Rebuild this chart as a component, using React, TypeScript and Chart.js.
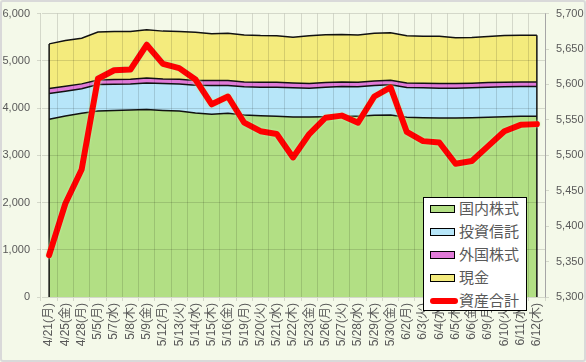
import React, { useEffect, useRef } from "react";
import { Chart, registerables } from "chart.js";

Chart.register(...registerables);

const categories = [
  "4/21(月)", "4/25(金)", "4/28(月)", "5/5(月)", "5/7(水)", "5/8(木)", "5/9(金)",
  "5/12(月)", "5/13(火)", "5/14(水)", "5/15(木)", "5/16(金)", "5/19(月)", "5/20(火)",
  "5/21(水)", "5/22(木)", "5/23(金)", "5/26(月)", "5/27(火)", "5/28(水)", "5/29(木)",
  "5/30(金)", "6/2(月)", "6/3(火)", "6/4(水)", "6/5(木)", "6/6(金)", "6/9(月)",
  "6/10(火)", "6/11(水)", "6/12(木)",
];

const domesticStocks = [
  3762, 3832, 3888, 3937, 3951, 3958, 3972, 3951, 3937, 3895, 3867, 3888, 3853, 3839,
  3825, 3811, 3811, 3818, 3825, 3825, 3846, 3853, 3804, 3797, 3790, 3790, 3797, 3804,
  3818, 3825, 3825,
];

const investmentTrusts = [
  547, 526, 519, 561, 554, 554, 561, 568, 575, 589, 610, 589, 596, 603,
  617, 617, 610, 624, 631, 624, 631, 638, 631, 631, 631, 631, 631, 638,
  631, 631, 631,
];

const foreignStocks = [
  105, 105, 105, 98, 98, 98, 105, 98, 98, 98, 105, 105, 105, 105,
  105, 105, 98, 98, 98, 98, 98, 98, 98, 98, 98, 98, 98, 98,
  98, 98, 98,
];

const cash = [
  945, 969, 968, 1012, 1017, 1011, 1018, 1012, 1013, 1025, 990, 1001, 992, 987,
  983, 964, 1011, 1013, 1002, 999, 1008, 1007, 1000, 994, 999, 969, 966, 973,
  987, 989, 990,
];

const totalAssets = [
  5359, 5432, 5480, 5608, 5620, 5621, 5656, 5629, 5623, 5607, 5572, 5583, 5546, 5534,
  5530, 5497, 5530, 5553, 5556, 5546, 5583, 5596, 5533, 5520, 5518, 5488, 5492, 5513,
  5534, 5543, 5544,
];

const seriesNames = ["国内株式", "投資信託", "外国株式", "現金", "資産合計"];
const seriesColors = ["#b2df84", "#b7e6f9", "#e07ad8", "#f4eb7d", "#ff0000"];

const FONT = '"Liberation Sans", "Noto Sans CJK JP", sans-serif';
const TEXT = "#595959";

const edgePlugin = {
  id: "areaEdges",
  beforeDatasetDraw(chart: any, args: any) {
    if (args.index !== 4) return;
    const ctx = chart.ctx;
    ctx.save();
    ctx.shadowColor = "rgba(190,245,170,0.95)";
    ctx.shadowBlur = 3;
  },
  afterDatasetDraw(chart: any, args: any) {
    if (args.index === 4) {
      chart.ctx.restore();
      return;
    }
    if (args.index !== 0) return;
    const topMeta = chart.getDatasetMeta(3);
    const y = chart.scales.y;
    const ctx = chart.ctx;
    const n = topMeta.data.length;
    ctx.save();
    ctx.strokeStyle = "#111";
    ctx.lineWidth = 1.5;
    [0, n - 1].forEach((i) => {
      const p = topMeta.data[i];
      ctx.beginPath();
      ctx.moveTo(p.x, y.getPixelForValue(0));
      ctx.lineTo(p.x, p.y);
      ctx.stroke();
    });
    ctx.restore();
  },
};

export default function App() {
  const ref = useRef<HTMLCanvasElement | null>(null);

  useEffect(() => {
    document.body.style.margin = "0";
    const canvas = ref.current;
    if (!canvas) return;
    const areaSets = [domesticStocks, investmentTrusts, foreignStocks, cash].map((d, i) => ({
      type: "line" as const,
      label: seriesNames[i],
      data: d,
      yAxisID: "y",
      stack: "assets",
      backgroundColor: seriesColors[i],
      borderColor: "#111",
      borderWidth: 1.5,
      pointRadius: 0,
      tension: 0,
      fill: i === 0 ? "origin" : "-1",
      order: 1,
    }));
    const chart = new Chart(canvas, {
      type: "line",
      data: {
        labels: categories,
        datasets: [
          ...areaSets,
          {
            type: "line",
            label: seriesNames[4],
            data: totalAssets,
            yAxisID: "y1",
            stack: "total",
            borderColor: seriesColors[4],
            backgroundColor: seriesColors[4],
            borderWidth: 6,
            borderJoinStyle: "round",
            borderCapStyle: "round",
            pointRadius: 0,
            tension: 0,
            fill: false,
            order: 0,
          },
        ],
      },
      options: {
        responsive: false,
        animation: false,
        layout: { padding: { top: 12, left: 0, right: 0, bottom: 0 } },
        plugins: {
          legend: { display: false },
          tooltip: { enabled: false },
        },
        scales: {
          x: {
            type: "category",
            offset: true,
            grid: {
              offset: true,
              color: "rgba(0,0,0,0.13)",
              tickLength: 4,
              z: 1,
            },
            border: { color: "#bfbfbf" },
            ticks: {
              autoSkip: false,
              maxRotation: 90,
              minRotation: 90,
              padding: 2,
              color: TEXT,
              font: { family: FONT, size: 12 },
            },
            afterFit: (s: any) => {
              s.height = 65;
            },
          },
          y: {
            type: "linear",
            position: "left",
            stacked: true,
            min: 0,
            max: 6000,
            ticks: {
              stepSize: 1000,
              padding: 7,
              color: TEXT,
              font: { family: FONT, size: 11 },
              callback: (v: any) => Number(v).toLocaleString("en-US"),
            },
            grid: { color: "rgba(0,0,0,0.13)", tickLength: 4, z: 1 },
            border: { color: "#bfbfbf" },
            afterFit: (s: any) => {
              s.width = 41;
            },
          },
          y1: {
            type: "linear",
            position: "right",
            min: 5300,
            max: 5700,
            ticks: {
              stepSize: 50,
              padding: 7,
              color: TEXT,
              font: { family: FONT, size: 11 },
              callback: (v: any) => Number(v).toLocaleString("en-US"),
            },
            grid: { drawOnChartArea: false, color: "rgba(0,0,0,0.13)", tickLength: 4 },
            border: { color: "#bfbfbf" },
            afterFit: (s: any) => {
              s.width = 41;
            },
          },
        },
      },
      plugins: [edgePlugin],
    } as any);
    return () => chart.destroy();
  }, []);

  const rowTop = (i: number) => 11 + i * 23;

  return (
    <div style={{ position: "relative", width: 586, height: 362, background: "#f4f9e9", overflow: "hidden" }}>
      <canvas ref={ref} width={586} height={362} style={{ display: "block", width: 586, height: 362 }} />
      <div
        style={{
          position: "absolute",
          left: 423,
          top: 197,
          width: 104,
          height: 114,
          boxSizing: "border-box",
          background: "#fff",
          border: "1.5px solid #000",
          fontFamily: FONT,
        }}
      >
        {seriesNames.map((name, i) => (
          <div key={name}>
            {i < 4 ? (
              <div
                style={{
                  position: "absolute",
                  left: 6,
                  top: rowTop(i) - 4,
                  width: 25,
                  height: 8,
                  boxSizing: "border-box",
                  background: seriesColors[i],
                  border: "1.5px solid #000",
                }}
              />
            ) : (
              <div
                style={{
                  position: "absolute",
                  left: 6,
                  top: rowTop(i) - 3,
                  width: 28,
                  height: 6,
                  borderRadius: 3,
                  background: seriesColors[i],
                }}
              />
            )}
            <div
              style={{
                position: "absolute",
                left: 35,
                top: rowTop(i) - 10,
                height: 20,
                lineHeight: "20px",
                fontSize: 15,
                color: TEXT,
                whiteSpace: "nowrap",
              }}
            >
              {name}
            </div>
          </div>
        ))}
      </div>
      <div
        style={{
          position: "absolute",
          left: 0,
          top: 0,
          width: 586,
          height: 362,
          boxSizing: "border-box",
          border: "2px solid #d9d9d9",
          borderRadius: 3,
          pointerEvents: "none",
        }}
      />
    </div>
  );
}
